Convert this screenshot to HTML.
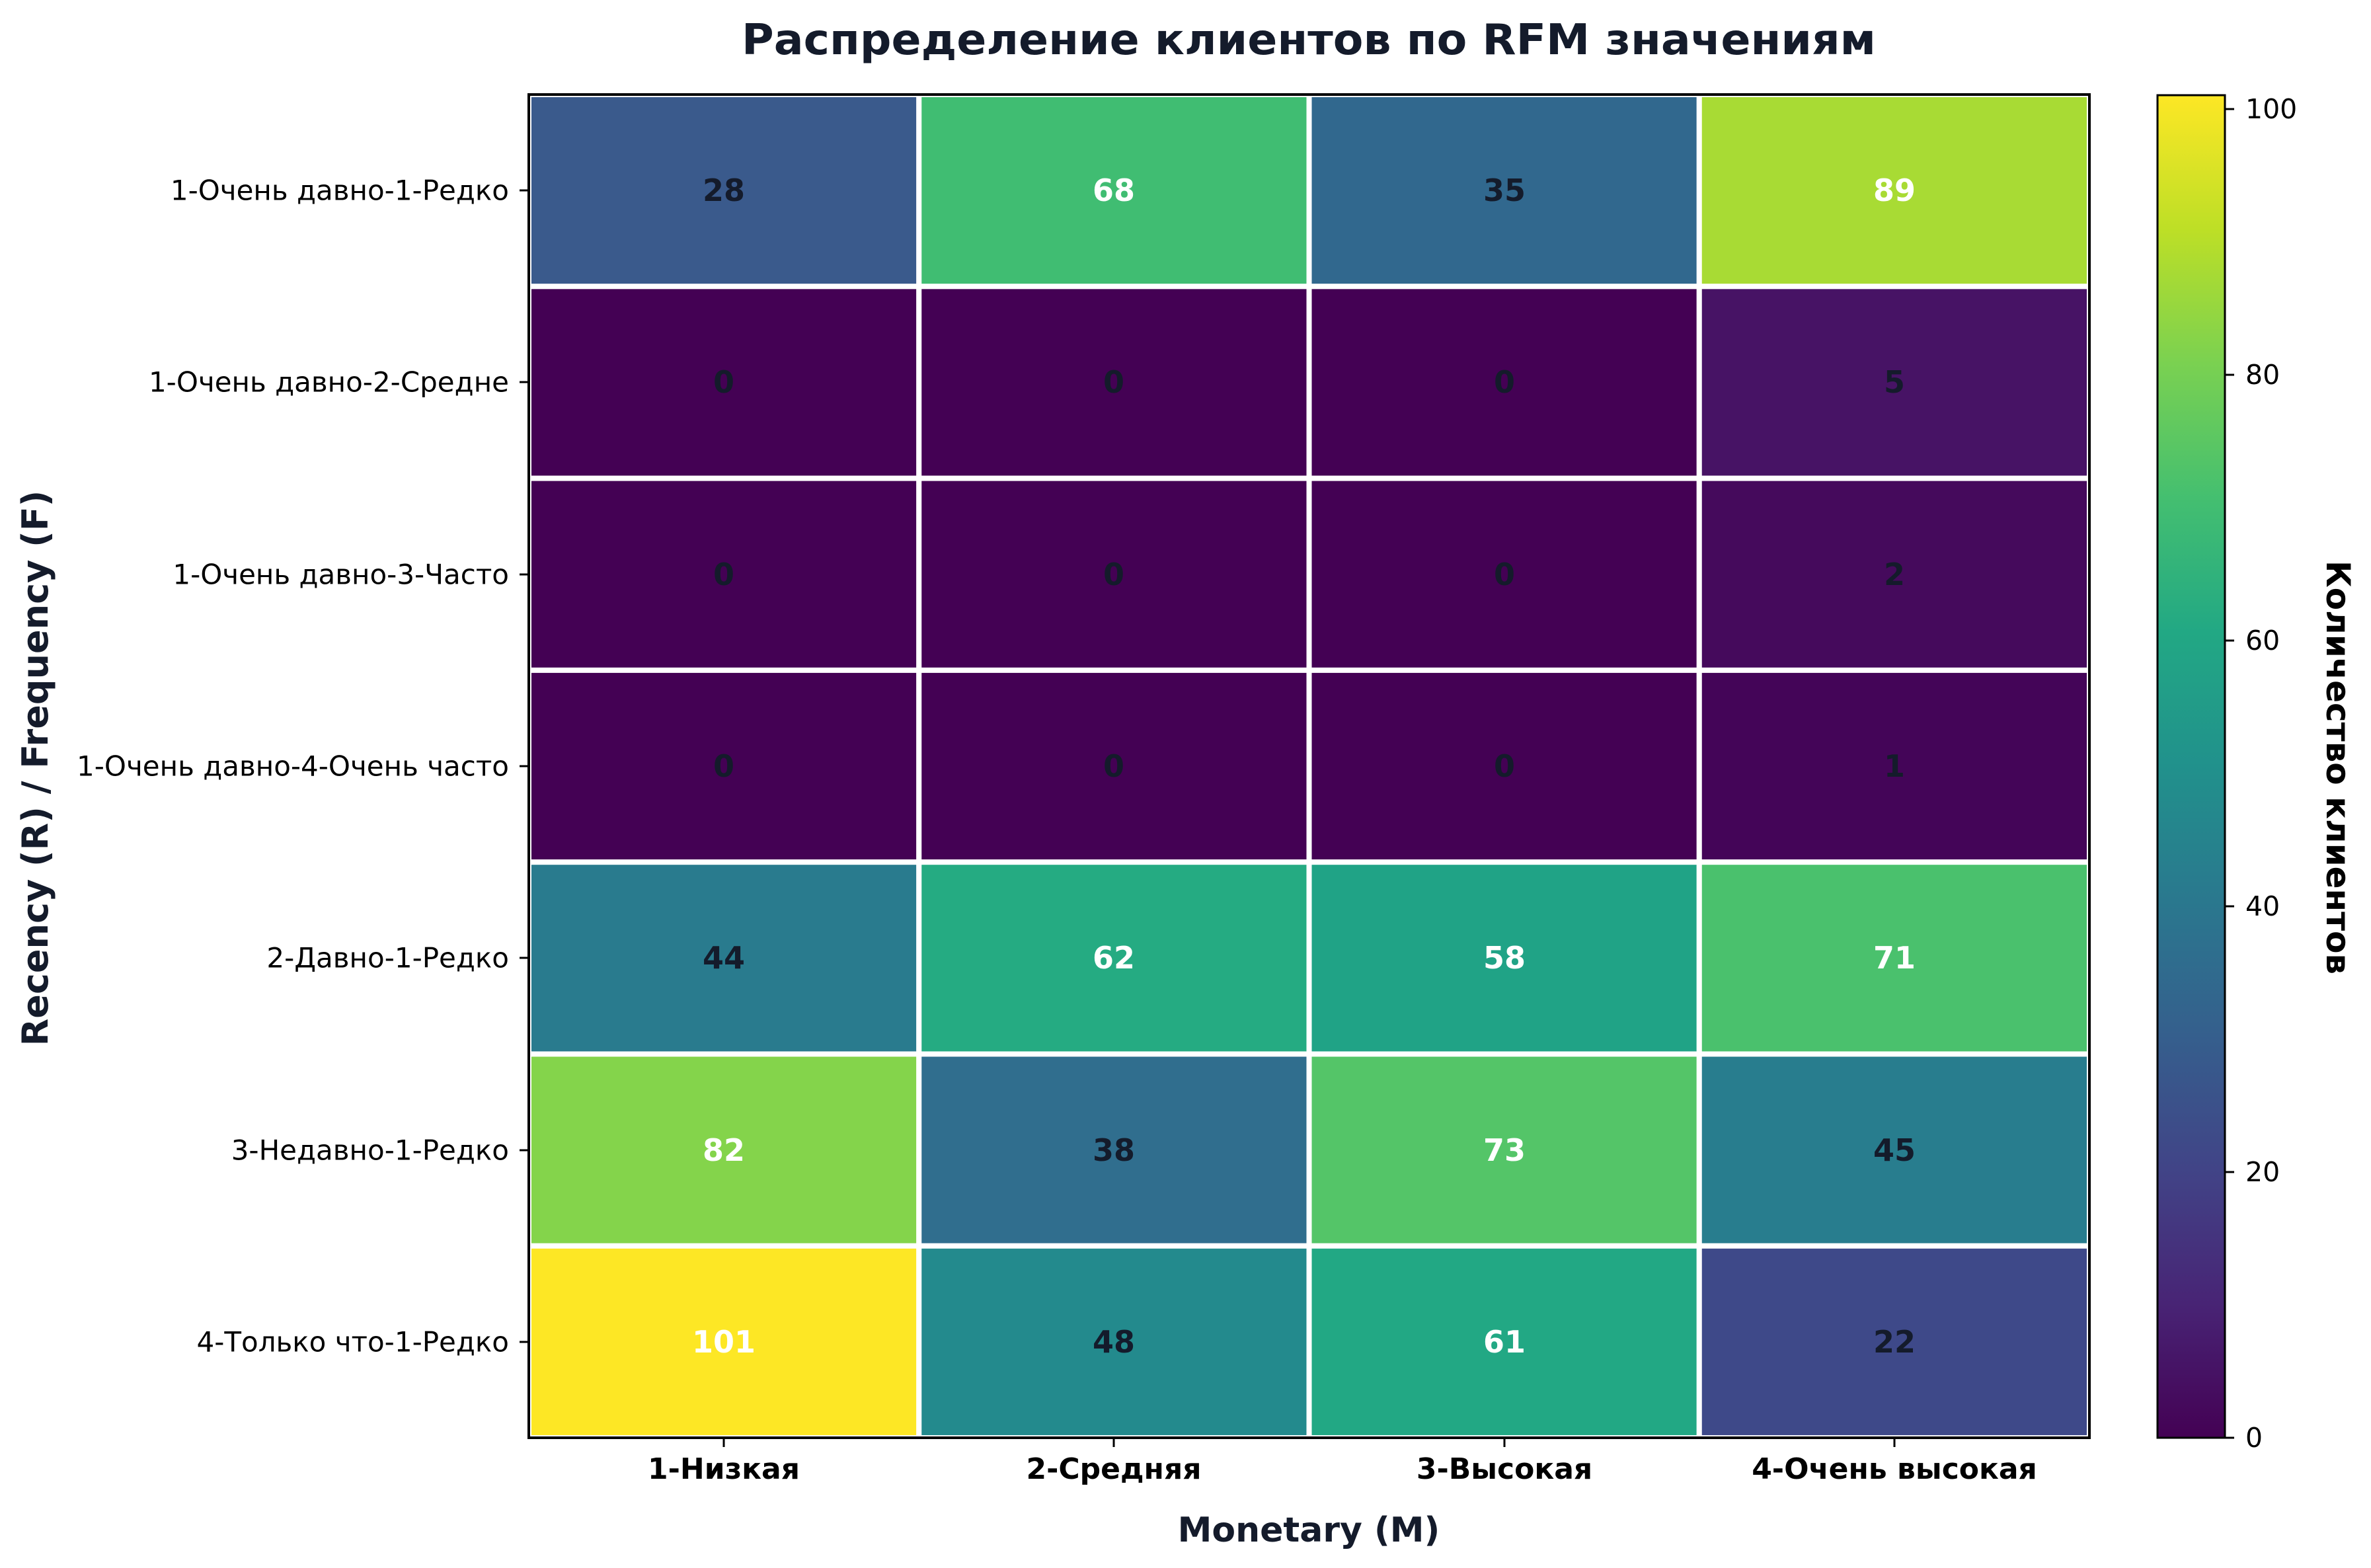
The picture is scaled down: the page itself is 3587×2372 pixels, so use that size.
<!DOCTYPE html>
<html><head><meta charset="utf-8"><style>html,body{margin:0;padding:0;background:#fff}svg{display:block}</style></head>
<body>
<svg width="3587" height="2372" viewBox="0 0 3587 2372" xmlns="http://www.w3.org/2000/svg" font-family="'DejaVu Sans','Liberation Sans',sans-serif">
<defs>
<linearGradient id="vir" x1="0" y1="1" x2="0" y2="0">
<stop offset="0" stop-color="#440154"/><stop offset="0.1" stop-color="#482475"/><stop offset="0.2" stop-color="#414487"/><stop offset="0.3" stop-color="#355f8d"/><stop offset="0.4" stop-color="#2a788e"/><stop offset="0.5" stop-color="#21918c"/><stop offset="0.6" stop-color="#22a884"/><stop offset="0.7" stop-color="#44bf70"/><stop offset="0.8" stop-color="#7ad151"/><stop offset="0.9" stop-color="#bddf26"/><stop offset="1" stop-color="#fde725"/>
</linearGradient>
<clipPath id="ax"><rect x="800" y="143" width="2361" height="2032"/></clipPath>
</defs>
<text x="1980" y="82" text-anchor="middle" font-size="64" font-weight="bold" fill="#141b2b" textLength="1716" lengthAdjust="spacingAndGlyphs">Распределение клиентов по RFM значениям</text>
<g clip-path="url(#ax)" stroke="#fff" stroke-width="8">
<rect x="800" y="143" width="590.25" height="290.3" fill="#3a5a8c"/>
<rect x="1390.25" y="143" width="590.25" height="290.3" fill="#40bd72"/>
<rect x="1980.5" y="143" width="590.25" height="290.3" fill="#31688e"/>
<rect x="2570.75" y="143" width="590.25" height="290.3" fill="#a8db34"/>
<rect x="800" y="433.3" width="590.25" height="290.3" fill="#440154"/>
<rect x="1390.25" y="433.3" width="590.25" height="290.3" fill="#440154"/>
<rect x="1980.5" y="433.3" width="590.25" height="290.3" fill="#440154"/>
<rect x="2570.75" y="433.3" width="590.25" height="290.3" fill="#471365"/>
<rect x="800" y="723.6" width="590.25" height="290.3" fill="#440154"/>
<rect x="1390.25" y="723.6" width="590.25" height="290.3" fill="#440154"/>
<rect x="1980.5" y="723.6" width="590.25" height="290.3" fill="#440154"/>
<rect x="2570.75" y="723.6" width="590.25" height="290.3" fill="#450a5c"/>
<rect x="800" y="1013.9" width="590.25" height="290.3" fill="#440154"/>
<rect x="1390.25" y="1013.9" width="590.25" height="290.3" fill="#440154"/>
<rect x="1980.5" y="1013.9" width="590.25" height="290.3" fill="#440154"/>
<rect x="2570.75" y="1013.9" width="590.25" height="290.3" fill="#440558"/>
<rect x="800" y="1304.2" width="590.25" height="290.3" fill="#297b8e"/>
<rect x="1390.25" y="1304.2" width="590.25" height="290.3" fill="#25ab82"/>
<rect x="1980.5" y="1304.2" width="590.25" height="290.3" fill="#20a386"/>
<rect x="2570.75" y="1304.2" width="590.25" height="290.3" fill="#4ac16d"/>
<rect x="800" y="1594.5" width="590.25" height="290.3" fill="#84d44b"/>
<rect x="1390.25" y="1594.5" width="590.25" height="290.3" fill="#306e8e"/>
<rect x="1980.5" y="1594.5" width="590.25" height="290.3" fill="#54c568"/>
<rect x="2570.75" y="1594.5" width="590.25" height="290.3" fill="#287d8e"/>
<rect x="800" y="1884.8" width="590.25" height="290.3" fill="#fde725"/>
<rect x="1390.25" y="1884.8" width="590.25" height="290.3" fill="#238a8d"/>
<rect x="1980.5" y="1884.8" width="590.25" height="290.3" fill="#22a884"/>
<rect x="2570.75" y="1884.8" width="590.25" height="290.3" fill="#3e4989"/>
</g>
<rect x="800" y="143" width="2361" height="2032" fill="none" stroke="#000" stroke-width="4"/>
<g font-size="46" font-weight="bold" text-anchor="middle" dominant-baseline="central">
<text x="1095" y="288" fill="#141b2b">28</text><text x="1685" y="288" fill="#fff">68</text><text x="2276" y="288" fill="#141b2b">35</text><text x="2866" y="288" fill="#fff">89</text>
<text x="1095" y="578" fill="#141b2b">0</text><text x="1685" y="578" fill="#141b2b">0</text><text x="2276" y="578" fill="#141b2b">0</text><text x="2866" y="578" fill="#141b2b">5</text>
<text x="1095" y="869" fill="#141b2b">0</text><text x="1685" y="869" fill="#141b2b">0</text><text x="2276" y="869" fill="#141b2b">0</text><text x="2866" y="869" fill="#141b2b">2</text>
<text x="1095" y="1159" fill="#141b2b">0</text><text x="1685" y="1159" fill="#141b2b">0</text><text x="2276" y="1159" fill="#141b2b">0</text><text x="2866" y="1159" fill="#141b2b">1</text>
<text x="1095" y="1449" fill="#141b2b">44</text><text x="1685" y="1449" fill="#fff">62</text><text x="2276" y="1449" fill="#fff">58</text><text x="2866" y="1449" fill="#fff">71</text>
<text x="1095" y="1740" fill="#fff">82</text><text x="1685" y="1740" fill="#141b2b">38</text><text x="2276" y="1740" fill="#fff">73</text><text x="2866" y="1740" fill="#141b2b">45</text>
<text x="1095" y="2030" fill="#fff">101</text><text x="1685" y="2030" fill="#141b2b">48</text><text x="2276" y="2030" fill="#fff">61</text><text x="2866" y="2030" fill="#141b2b">22</text>
</g>
<g stroke="#000" stroke-width="3">
<line x1="786" y1="288" x2="800" y2="288"/><line x1="786" y1="578" x2="800" y2="578"/><line x1="786" y1="869" x2="800" y2="869"/><line x1="786" y1="1159" x2="800" y2="1159"/><line x1="786" y1="1449" x2="800" y2="1449"/><line x1="786" y1="1740" x2="800" y2="1740"/><line x1="786" y1="2030" x2="800" y2="2030"/>
<line x1="1095" y1="2175" x2="1095" y2="2189"/><line x1="1685" y1="2175" x2="1685" y2="2189"/><line x1="2276" y1="2175" x2="2276" y2="2189"/><line x1="2866" y1="2175" x2="2866" y2="2189"/>
</g>
<g font-size="42" text-anchor="end" dominant-baseline="central" fill="#000">
<text x="770" y="288">1-Очень давно-1-Редко</text>
<text x="770" y="578">1-Очень давно-2-Средне</text>
<text x="770" y="869">1-Очень давно-3-Часто</text>
<text x="770" y="1159">1-Очень давно-4-Очень часто</text>
<text x="770" y="1449">2-Давно-1-Редко</text>
<text x="770" y="1740">3-Недавно-1-Редко</text>
<text x="770" y="2030">4-Только что-1-Редко</text>
</g>
<g font-size="44" font-weight="bold" text-anchor="middle" fill="#000">
<text x="1095" y="2237">1-Низкая</text><text x="1685" y="2237">2-Средняя</text><text x="2276" y="2237">3-Высокая</text><text x="2866" y="2237">4-Очень высокая</text>
</g>
<text x="1980" y="2332" text-anchor="middle" font-size="52" font-weight="bold" fill="#141b2b">Monetary (M)</text>
<text transform="translate(72,1162) rotate(-90)" text-anchor="middle" font-size="54" font-weight="bold" fill="#141b2b">Recency (R) / Frequency (F)</text>
<rect x="3264" y="144" width="102" height="2031" fill="url(#vir)" stroke="#000" stroke-width="3"/>
<g stroke="#000" stroke-width="3">
<line x1="3366" y1="2175" x2="3380" y2="2175"/><line x1="3366" y1="1773" x2="3380" y2="1773"/><line x1="3366" y1="1371" x2="3380" y2="1371"/><line x1="3366" y1="969" x2="3380" y2="969"/><line x1="3366" y1="567" x2="3380" y2="567"/><line x1="3366" y1="165" x2="3380" y2="165"/>
</g>
<g font-size="41" dominant-baseline="central" fill="#000">
<text x="3397" y="2175">0</text><text x="3397" y="1773">20</text><text x="3397" y="1371">40</text><text x="3397" y="969">60</text><text x="3397" y="567">80</text><text x="3397" y="165">100</text>
</g>
<text transform="translate(3520,1161) rotate(90)" text-anchor="middle" font-size="50" font-weight="bold" fill="#000">Количество клиентов</text>
</svg>
</body></html>
